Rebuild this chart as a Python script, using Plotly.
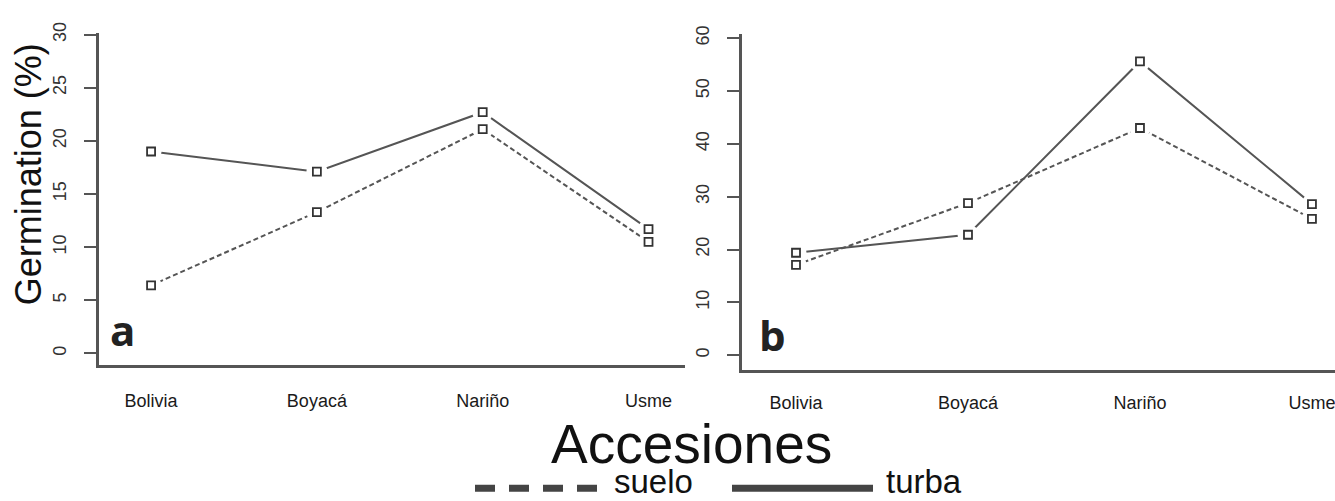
import plotly.graph_objects as go

W, H = 1335, 501

# Accessions on the x axis
accesiones = ["Bolivia", "Boyacá", "Nariño", "Usme"]

# Germination (%) – panel a
a_suelo = [6.4, 13.3, 21.1, 10.5]
a_turba = [19.0, 17.1, 22.7, 11.7]

# Germination (%) – panel b
b_suelo = [17.1, 28.8, 43.0, 25.8]
b_turba = [19.4, 22.8, 55.6, 28.6]

a_yticks = [0, 5, 10, 15, 20, 25, 30]
b_yticks = [0, 10, 20, 30, 40, 50, 60]

LINE = "#555555"
MARK = "#333333"
TXT = "#1a1a1a"


def px(x):
    return x / W


def py(y):
    return 1 - y / H


fig = go.Figure()


def add_panel(suelo, turba, xa, ya):
    # connecting lines
    fig.add_trace(go.Scatter(x=accesiones, y=suelo, mode="lines", xaxis=xa, yaxis=ya,
                             line=dict(color=LINE, width=2, dash="5px,3px"),
                             showlegend=False, hoverinfo="skip"))
    fig.add_trace(go.Scatter(x=accesiones, y=turba, mode="lines", xaxis=xa, yaxis=ya,
                             line=dict(color=LINE, width=2),
                             showlegend=False, hoverinfo="skip"))
    # white halo behind each point so the lines stop short of it
    for s in (suelo, turba):
        fig.add_trace(go.Scatter(x=accesiones, y=s, mode="markers", xaxis=xa, yaxis=ya,
                                 marker=dict(symbol="circle", size=21, color="white",
                                             opacity=1, line=dict(width=0)),
                                 showlegend=False, hoverinfo="skip"))
    # open square points
    for name, s in (("suelo", suelo), ("turba", turba)):
        fig.add_trace(go.Scatter(x=accesiones, y=s, mode="markers", xaxis=xa, yaxis=ya,
                                 name=name,
                                 marker=dict(symbol="square-open", size=8, color=MARK,
                                             line=dict(width=1.8, color=MARK)),
                                 showlegend=False))


add_panel(a_suelo, a_turba, "x", "y")
add_panel(b_suelo, b_turba, "x2", "y2")

xcommon = dict(showline=True, linecolor=LINE, linewidth=2.5, showgrid=False,
               zeroline=False, ticks="", tickfont=dict(family="Liberation Sans", size=18, color=TXT),
               type="category")
ycommon = dict(showline=True, linecolor=LINE, linewidth=2.5, showgrid=False,
               zeroline=False, ticks="outside", ticklen=12, tickwidth=2, tickcolor=LINE,
               tickangle=-90, tickfont=dict(family="Liberation Sans", size=18, color="#333333"),
               ticklabelstandoff=11)

fig.update_layout(
    width=W, height=H,
    margin=dict(l=0, r=0, t=0, b=0),
    paper_bgcolor="white", plot_bgcolor="white",
    xaxis=dict(xcommon, domain=[px(99), px(685)], anchor="y", range=[-0.314, 3.22],
               ticklabelstandoff=18),
    yaxis=dict(ycommon, domain=[py(362), py(22)], anchor="x", range=[-1.1, 30.2],
               tickvals=a_yticks),
    xaxis2=dict(xcommon, domain=[px(742), 1.0], anchor="y2", range=[-0.314, 3.134],
                ticklabelstandoff=15),
    yaxis2=dict(ycommon, domain=[py(367), py(24)], anchor="x2", range=[-2.78, 60.7],
                tickvals=b_yticks),
)

ann = []
# axis titles
ann.append(dict(text="Germination (%)", x=px(28), y=py(167), textangle=-90,
                font=dict(family="Liberation Sans", size=36, color="#111111")))
ann.append(dict(text="Accesiones", x=px(691), y=py(443),
                font=dict(family="Liberation Sans", size=55, color="#111111")))
# panel letters
ann.append(dict(text="<b>a</b>", x=px(123), y=py(326),
                font=dict(family="Open Sans", size=42, color="#222222")))
ann.append(dict(text="<b>b</b>", x=px(773), y=py(331),
                font=dict(family="Open Sans", size=42, color="#222222")))
# legend labels, resting on the bottom edge
ann.append(dict(text="suelo", x=px(613), y=0, xanchor="left", yanchor="bottom",
                font=dict(family="Liberation Sans", size=33, color="#111111")))
ann.append(dict(text="turba", x=px(885), y=0, xanchor="left", yanchor="bottom",
                font=dict(family="Liberation Sans", size=33, color="#111111")))
for a in ann:
    a.update(xref="paper", yref="paper", showarrow=False, borderpad=0)
    a.setdefault("xanchor", "center")
    a.setdefault("yanchor", "middle")
fig.update_layout(annotations=ann)

# legend keys
fig.add_shape(type="line", xref="paper", yref="paper",
              x0=px(475), x1=px(597), y0=py(488), y1=py(488),
              line=dict(color="#444444", width=7, dash="20px,14px"))
fig.add_shape(type="line", xref="paper", yref="paper",
              x0=px(732), x1=px(873), y0=py(488), y1=py(488),
              line=dict(color="#444444", width=7))

fig.write_html("out.html")
